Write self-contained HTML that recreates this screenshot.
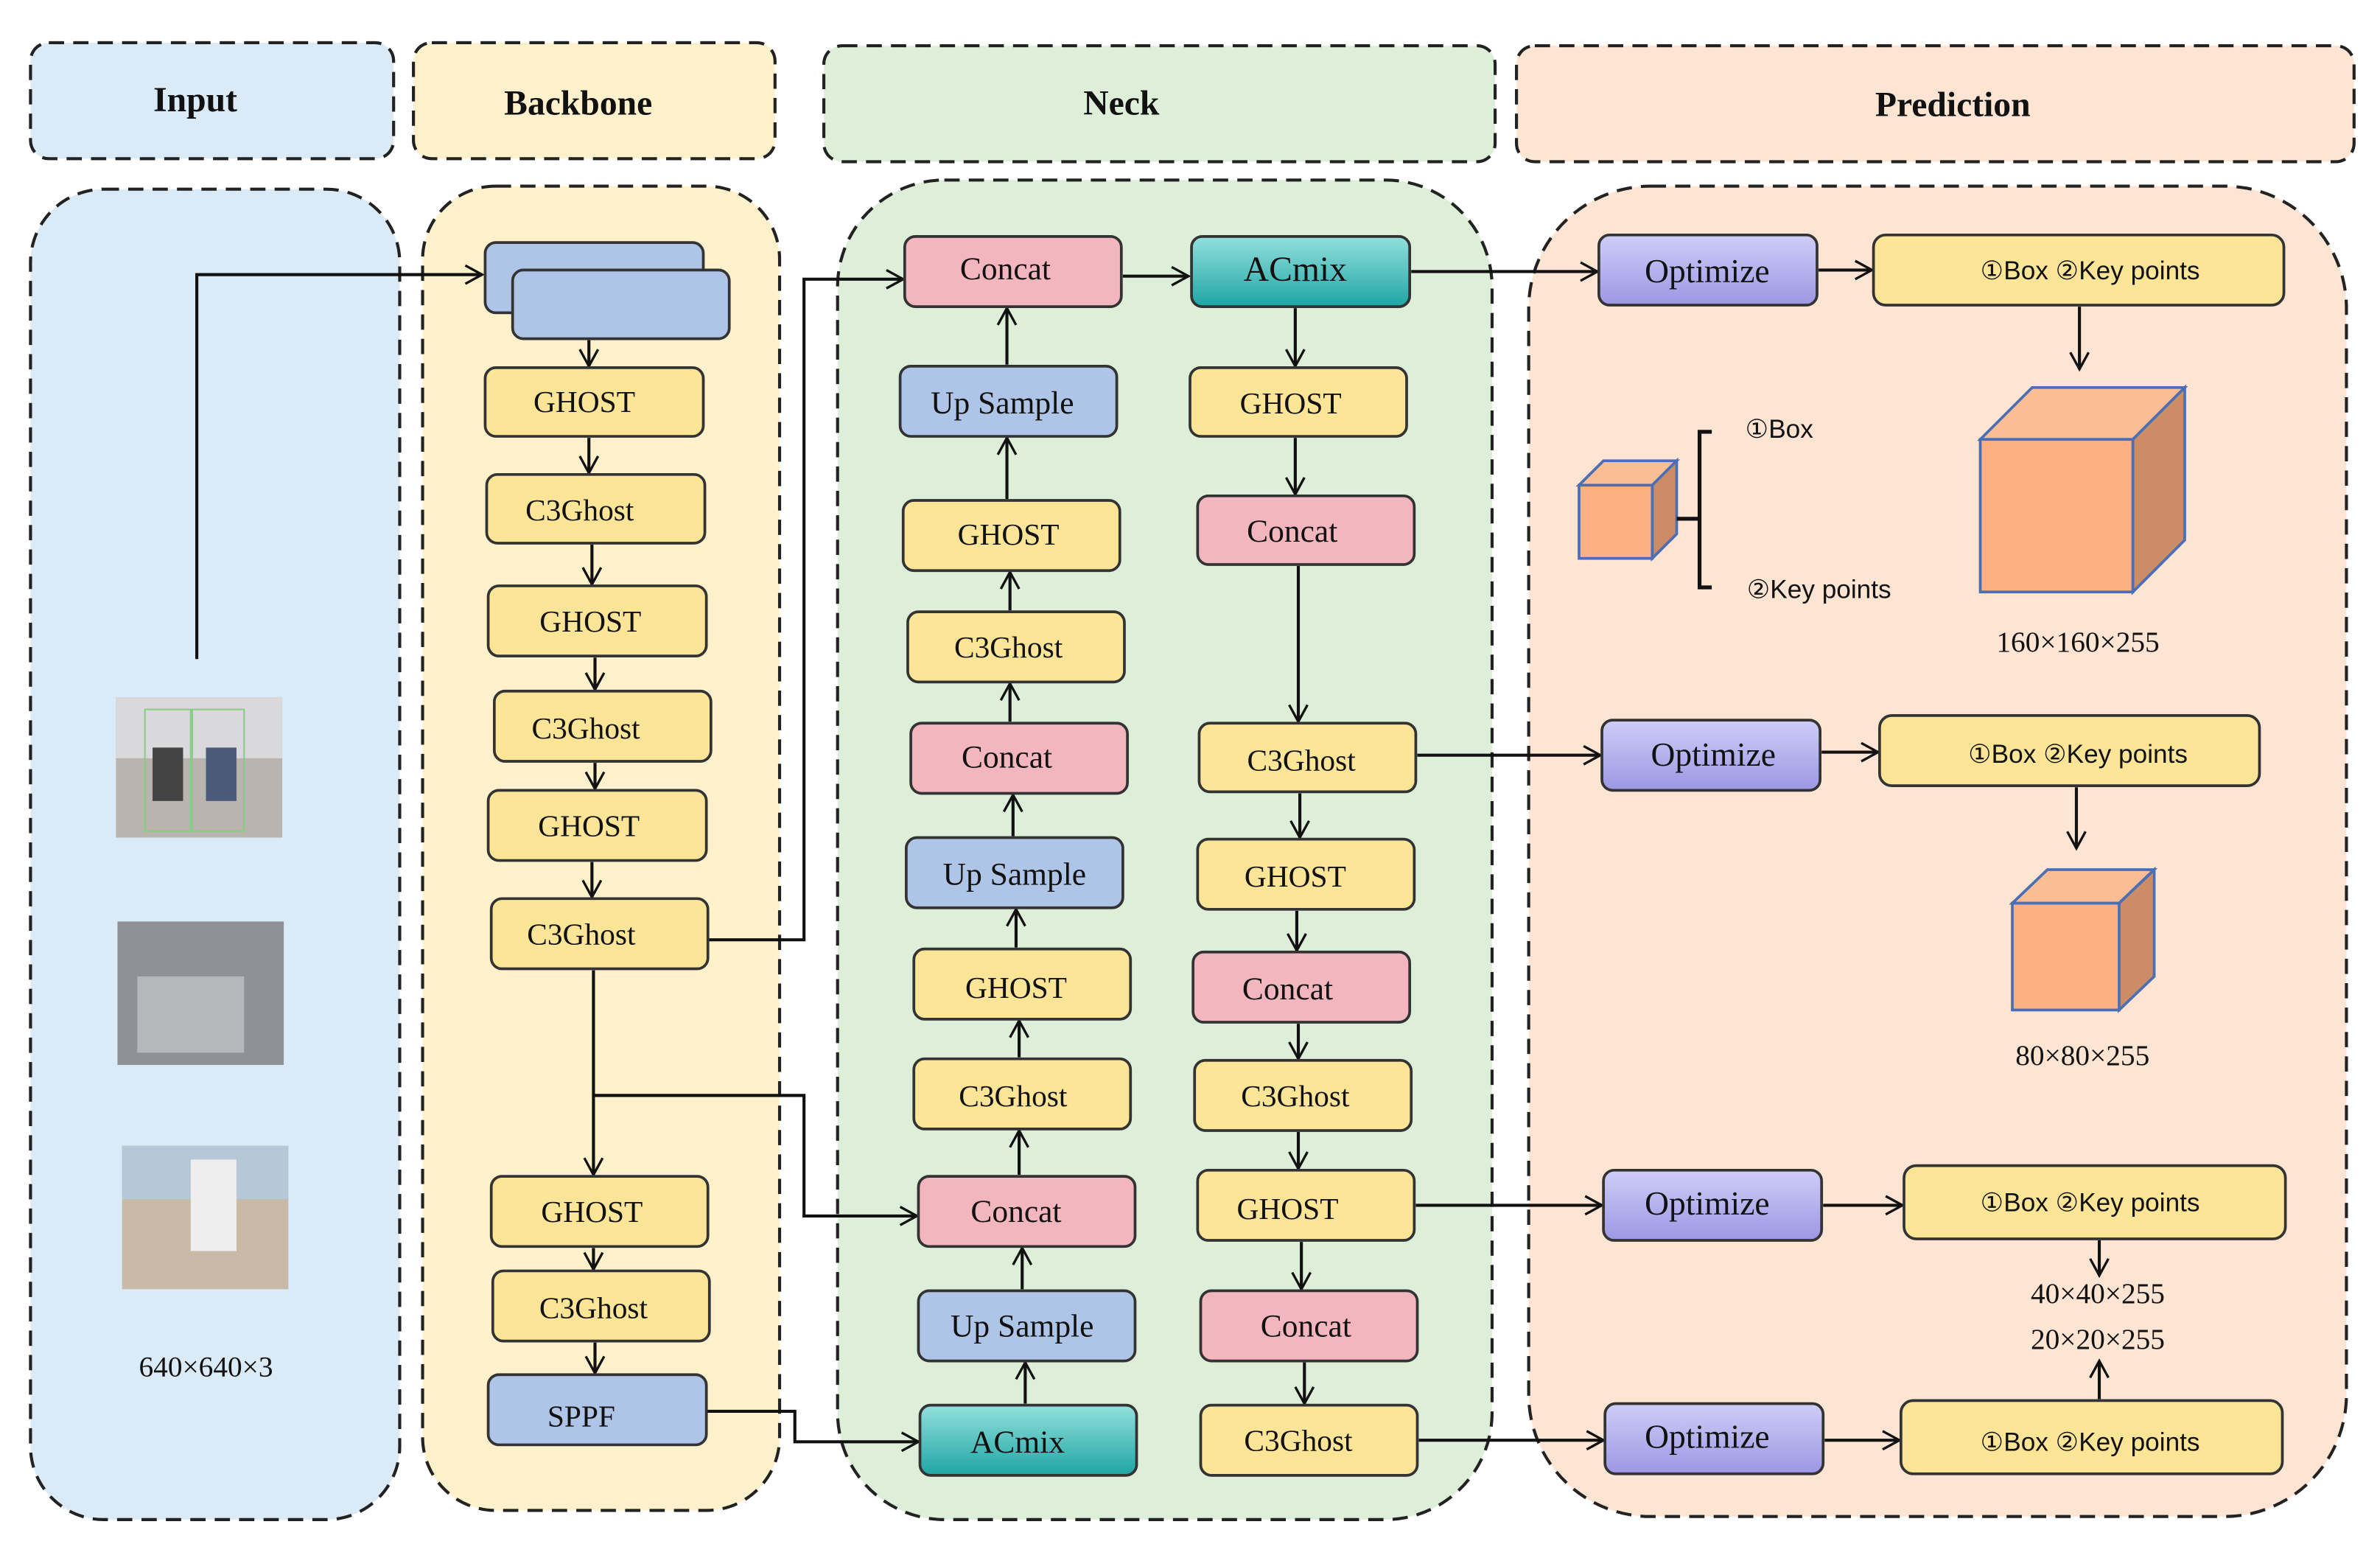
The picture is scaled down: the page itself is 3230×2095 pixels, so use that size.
<!DOCTYPE html>
<html><head><meta charset="utf-8"><style>html,body{margin:0;padding:0;background:#fff}svg{display:block}</style></head><body>
<svg width="3230" height="2095" viewBox="0 0 1560 1012" preserveAspectRatio="none" xmlns="http://www.w3.org/2000/svg" font-family="'Liberation Serif', serif">
<defs>
<linearGradient id="gp" x1="0" y1="0" x2="0" y2="1"><stop offset="0" stop-color="#cfcdf7"/><stop offset="1" stop-color="#9d97e4"/></linearGradient>
<linearGradient id="gt" x1="0" y1="0" x2="0" y2="1"><stop offset="0" stop-color="#93e0dc"/><stop offset="1" stop-color="#1fa5a5"/></linearGradient>
<marker id="a" markerWidth="14" markerHeight="14" refX="12" refY="7" orient="auto" markerUnits="userSpaceOnUse"><path d="M1,1 L12,7 L1,13" fill="none" stroke="#111" stroke-width="1.6"/></marker>
</defs>
<g stroke="#222" stroke-width="2" stroke-dasharray="10,6">
<rect x="20" y="28" width="238" height="76" rx="12" fill="#daeaf7"/>
<rect x="271" y="28" width="237" height="76" rx="12" fill="#fff1cc"/>
<rect x="540" y="30" width="440" height="76" rx="12" fill="#deefd9"/>
<rect x="994" y="30" width="549" height="76" rx="12" fill="#fde4d3"/>
<rect x="20" y="124" width="242" height="872" rx="48" fill="#daeaf7"/>
<rect x="277" y="122" width="234" height="868" rx="48" fill="#fff1cc"/>
<rect x="549" y="118" width="429" height="878" rx="70" fill="#deefd9"/>
<rect x="1002" y="122" width="536" height="872" rx="80" fill="#fde4d3"/>
</g>
<g font-weight="bold" font-size="23" text-anchor="middle" fill="#111">
<text x="128" y="73">Input</text><text x="379" y="75">Backbone</text><text x="735" y="75">Neck</text><text x="1280" y="76">Prediction</text>
</g>
<!-- images -->
<rect x="76" y="457" width="109" height="92" fill="#b9b4ad"/><rect x="76" y="457" width="109" height="40" fill="#d9d9db"/><rect x="95" y="465" width="30" height="80" fill="none" stroke="#8c8" /><rect x="126" y="465" width="34" height="80" fill="none" stroke="#8c8"/><rect x="100" y="490" width="20" height="35" fill="#444"/><rect x="135" y="490" width="20" height="35" fill="#4a5a78"/>
<rect x="77" y="604" width="109" height="94" fill="#8e9296"/><rect x="90" y="640" width="70" height="50" fill="#b5b8ba"/>
<rect x="80" y="751" width="109" height="94" fill="#c9b9a7"/><rect x="80" y="751" width="109" height="35" fill="#b6c8d8"/><rect x="125" y="760" width="30" height="60" fill="#eee"/>
<g font-size="19" text-anchor="middle" fill="#111">
<text x="135" y="902">640×640×3</text>
<text x="1362" y="427">160×160×255</text>
<text x="1365" y="698">80×80×255</text>
<text x="1375" y="854">40×40×255</text>
<text x="1375" y="884">20×20×255</text>
</g>
<!-- connectors -->
<g fill="none" stroke="#111" stroke-width="2" marker-end="url(#a)">
<path d="M129,432 V180 H316"/>
<path d="M386,223 V240"/><path d="M386,287 V310"/><path d="M388,357 V383"/><path d="M390,431 V452"/><path d="M390,500 V517"/><path d="M388,565 V588"/>
<path d="M464,616 H527 V183 H592"/>
<path d="M389,636 V770"/><path d="M389,718 H527 V797 H601"/>
<path d="M389,818 V832"/><path d="M390,880 V900"/>
<path d="M463,925 H521 V945 H602"/>
<path d="M660,239 V202"/><path d="M660,327 V287"/><path d="M662,400 V375"/><path d="M662,473 V448"/><path d="M664,548 V521"/><path d="M666,621 V596"/><path d="M668,693 V669"/><path d="M668,770 V741"/><path d="M670,845 V818"/><path d="M672,920 V893"/>
<path d="M736,181 H779"/><path d="M925,178 H1047"/>
<path d="M849,202 V240"/><path d="M849,287 V324"/><path d="M851,371 V473"/>
<path d="M929,495 H1049"/><path d="M852,520 V549"/><path d="M850,597 V623"/><path d="M851,671 V694"/><path d="M851,742 V766"/><path d="M853,814 V845"/><path d="M855,893 V920"/>
<path d="M928,790 H1050"/><path d="M930,944 H1051"/>
<path d="M1192,177 H1227"/><path d="M1194,493 H1231"/><path d="M1195,790 H1247"/><path d="M1196,944 H1245"/>
<path d="M1363,201 V242"/><path d="M1361,516 V556"/><path d="M1376,813 V836"/><path d="M1376,917 V892"/>
</g>
<!-- boxes -->
<g stroke="#333" stroke-width="1.8">
<rect x="318" y="159" width="143" height="46" rx="7" fill="#aec5e8"/><rect x="336" y="177" width="142" height="45" rx="7" fill="#aec5e8"/>
<g fill="#fde597">
<rect x="318" y="241" width="143" height="45" rx="7"/><rect x="319" y="311" width="143" height="45" rx="7"/><rect x="320" y="384" width="143" height="46" rx="7"/><rect x="324" y="453" width="142" height="46" rx="7"/><rect x="320" y="518" width="143" height="46" rx="7"/><rect x="322" y="589" width="142" height="46" rx="7"/><rect x="322" y="771" width="142" height="46" rx="7"/><rect x="323" y="833" width="142" height="46" rx="7"/>
<rect x="592" y="328" width="142" height="46" rx="7"/><rect x="595" y="401" width="142" height="46" rx="7"/><rect x="599" y="622" width="142" height="46" rx="7"/><rect x="599" y="694" width="142" height="46" rx="7"/>
<rect x="780" y="241" width="142" height="45" rx="7"/><rect x="786" y="474" width="142" height="45" rx="7"/><rect x="785" y="550" width="142" height="46" rx="7"/><rect x="783" y="695" width="142" height="46" rx="7"/><rect x="785" y="767" width="142" height="46" rx="7"/><rect x="787" y="921" width="142" height="46" rx="7"/>
<rect x="1228" y="154" width="269" height="46" rx="8"/><rect x="1232" y="469" width="249" height="46" rx="8"/><rect x="1248" y="764" width="250" height="48" rx="8"/><rect x="1246" y="918" width="250" height="48" rx="8"/>
</g>
<rect x="320" y="901" width="143" height="46" rx="7" fill="#aec5e8"/>
<g fill="#aec5e8"><rect x="590" y="240" width="142" height="46" rx="7"/><rect x="594" y="549" width="142" height="46" rx="7"/><rect x="602" y="846" width="142" height="46" rx="7"/></g>
<g fill="#f3b6bf"><rect x="593" y="155" width="142" height="46" rx="7"/><rect x="597" y="474" width="142" height="46" rx="7"/><rect x="602" y="771" width="142" height="46" rx="7"/><rect x="785" y="325" width="142" height="45" rx="7"/><rect x="782" y="624" width="142" height="46" rx="7"/><rect x="787" y="846" width="142" height="46" rx="7"/></g>
<g fill="url(#gt)"><rect x="781" y="155" width="143" height="46" rx="7"/><rect x="603" y="921" width="142" height="46" rx="7"/></g>
<g fill="url(#gp)"><rect x="1048" y="154" width="143" height="46" rx="7"/><rect x="1050" y="472" width="143" height="46" rx="7"/><rect x="1051" y="767" width="143" height="46" rx="7"/><rect x="1052" y="920" width="143" height="46" rx="7"/></g>
</g>
<g font-size="20" text-anchor="middle" fill="#111">
<text x="383" y="270">GHOST</text><text x="380" y="341">C3Ghost</text><text x="387" y="414">GHOST</text><text x="384" y="484">C3Ghost</text><text x="386" y="548">GHOST</text><text x="381" y="619">C3Ghost</text><text x="388" y="801">GHOST</text><text x="389" y="864">C3Ghost</text><text x="381" y="935">SPPF</text>
<text x="659" y="183" font-size="21">Concat</text><text x="657" y="271" font-size="21">Up Sample</text><text x="661" y="357">GHOST</text><text x="661" y="431">C3Ghost</text><text x="660" y="503" font-size="21">Concat</text><text x="665" y="580" font-size="21">Up Sample</text><text x="666" y="654">GHOST</text><text x="664" y="725">C3Ghost</text><text x="666" y="801" font-size="21">Concat</text><text x="670" y="876" font-size="21">Up Sample</text><text x="667" y="952" font-size="21">ACmix</text>
<text x="849" y="184" font-size="23">ACmix</text><text x="846" y="271">GHOST</text><text x="847" y="355" font-size="21">Concat</text><text x="853" y="505">C3Ghost</text><text x="849" y="581">GHOST</text><text x="844" y="655" font-size="21">Concat</text><text x="849" y="725">C3Ghost</text><text x="844" y="799">GHOST</text><text x="856" y="876" font-size="21">Concat</text><text x="851" y="951">C3Ghost</text>
<text x="1119" y="185" font-size="22">Optimize</text><text x="1123" y="502" font-size="22">Optimize</text><text x="1119" y="796" font-size="22">Optimize</text><text x="1119" y="949" font-size="22">Optimize</text>
</g>
<g font-family="'Liberation Sans', sans-serif" font-size="17" text-anchor="middle" fill="#111">
<text x="1370" y="183">①Box ②Key points</text><text x="1362" y="500">①Box ②Key points</text><text x="1370" y="794">①Box ②Key points</text><text x="1370" y="951">①Box ②Key points</text>
<text x="1144" y="287" text-anchor="start">①Box</text><text x="1145" y="392" text-anchor="start">②Key points</text>
</g>
<!-- cubes -->
<g stroke="#4a6fb5" stroke-width="1.8">
<polygon points="1035,318 1051,302 1099,302 1083,318" fill="#fbbd93"/><polygon points="1083,318 1099,302 1099,350 1083,366" fill="#cc8d66"/><rect x="1035" y="318" width="48" height="48" fill="#fdb082"/>
<polygon points="1298,288 1332,254 1432,254 1398,288" fill="#fbbd93"/><polygon points="1398,288 1432,254 1432,354 1398,388" fill="#cc8d66"/><rect x="1298" y="288" width="100" height="100" fill="#fdb082"/>
<polygon points="1319,592 1342,570 1412,570 1389,592" fill="#fbbd93"/><polygon points="1389,592 1412,570 1412,640 1389,662" fill="#cc8d66"/><rect x="1319" y="592" width="70" height="70" fill="#fdb082"/>
</g>
<path d="M1099,340 H1114 M1122,283 H1114 V385 H1122" fill="none" stroke="#111" stroke-width="2.5"/>
</svg>
</body></html>
